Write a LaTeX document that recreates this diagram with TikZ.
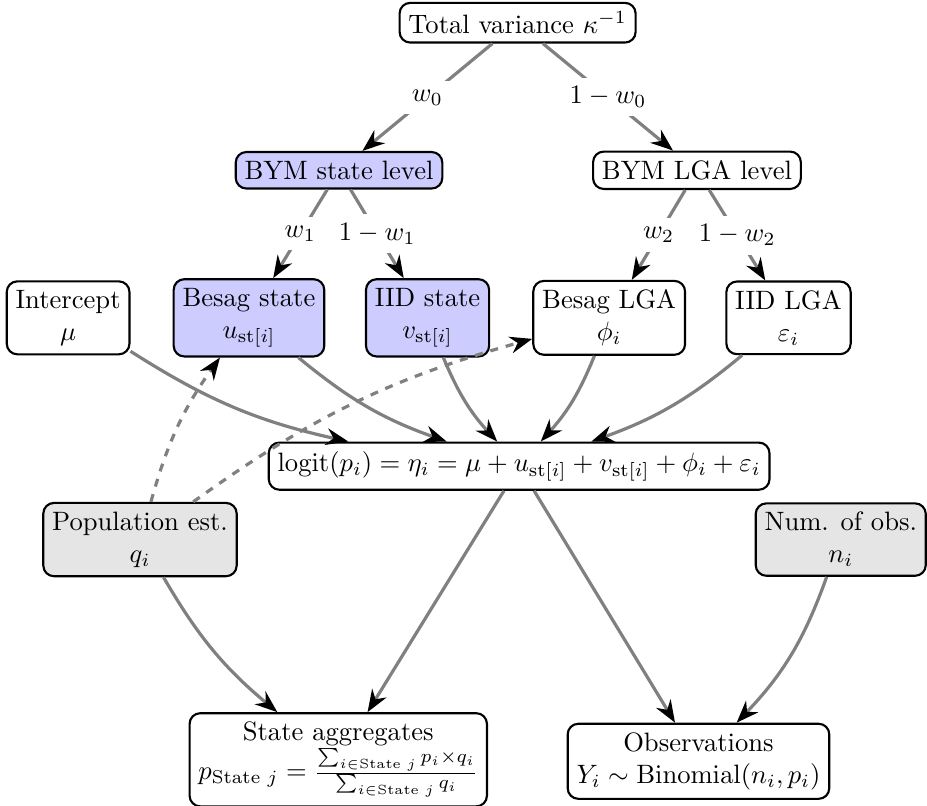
\documentclass[tikz,border=0pt]{standalone}
\usepackage{amsmath}
\usetikzlibrary{arrows.meta}
\tikzset{
    block/.style = {draw, thick, rounded corners, align=center, fill=white},
    statelevel/.style = {block, fill=blue!20},
    observed/.style = {block, fill=gray!20},
    link/.style = {draw=gray, very thick, -{Stealth[black]}},
    prior/.style = {link, dashed},
    weight/.style = {fill=white}
}

\begin{document}
\begin{tikzpicture}
        \useasboundingbox (0, 0) rectangle (12.25, -10.65);
        % place variance tree
        \node[block] (total) at (6.84, -0.30) {Total variance $\kappa^{-1}$};
        \node[statelevel] (bymstate) at (4.48, -2.25) {BYM state level};
        \node[block] (bymlga) at (9.21, -2.25) {BYM LGA level};
        % place model components
        \node[block] (intercept) at (0.90, -4.20) {Intercept\\ $\mu$};
        \node[statelevel] (besagstate) at (3.29, -4.20) {Besag state\\ $u_{\mathrm{st}[i]}$};
        \node[statelevel] (iidstate) at (5.65, -4.20) {IID state\\ $v_{\mathrm{st}[i]}$};
        \node[block] (besaglga) at (8.05, -4.20) {Besag LGA\\ $\phi_i$};
        \node[block] (iidlga) at (10.42, -4.20) {IID LGA\\ $\varepsilon_i$};
        \node[block] (logit) at (6.86, -6.16)
            {$\mathrm{logit}(p_i) = \eta_i = \mu + u_{\mathrm{st}[i]} + v_{\mathrm{st}[i]} + \phi_i + \varepsilon_i$};
        % place data and outputs
        \node[observed] (popest) at (1.85, -7.13) {Population est.\\ $q_i$};
        \node[observed] (numobs) at (11.11, -7.13) {Num. of obs.\\ $n_i$};
        \node[block] (stateagg) at (4.47, -10.04)
            {State aggregates\\ $p_{\text{State }j} = \frac{\sum_{i\in\text{State }j} p_i\times q_i}{\sum_{i\in\text{State }j} q_i}$};
        \node[block] (obs) at (9.23, -10.06) {Observations\\ $Y_i \sim \mathrm{Binomial}(n_i, p_i)$};

        % draw variance split
        \draw[link] (total) -- node[weight] {$w_0$} (bymstate);
        \draw[link] (total) -- node[weight] {$1-w_0$} (bymlga);
        \draw[link] (bymstate) -- node[weight] {$w_1$} (besagstate);
        \draw[link] (bymstate) -- node[weight] {$1-w_1$} (iidstate);
        \draw[link] (bymlga) -- node[weight] {$w_2$} (besaglga);
        \draw[link] (bymlga) -- node[weight] {$1-w_2$} (iidlga);
        % draw linear predictor
        \draw[link] (intercept) to[bend right=10] (logit);
        \draw[link] (besagstate) to[bend right=10] (logit);
        \draw[link] (iidstate) to[bend right=10] (logit);
        \draw[link] (besaglga) to[bend left=10] (logit);
        \draw[link] (iidlga) to[bend left=10] (logit);
        % draw population weights
        \draw[prior] (popest) to[bend left=10] (besagstate);
        \draw[prior] (popest) to[bend left=10] (besaglga);
        % draw outputs
        \draw[link] (popest) to[bend right=10] (stateagg);
        \draw[link] (logit) -- (stateagg);
        \draw[link] (logit) -- (obs);
        \draw[link] (numobs) to[bend left=12] (obs);
    \end{tikzpicture}
\end{document}
